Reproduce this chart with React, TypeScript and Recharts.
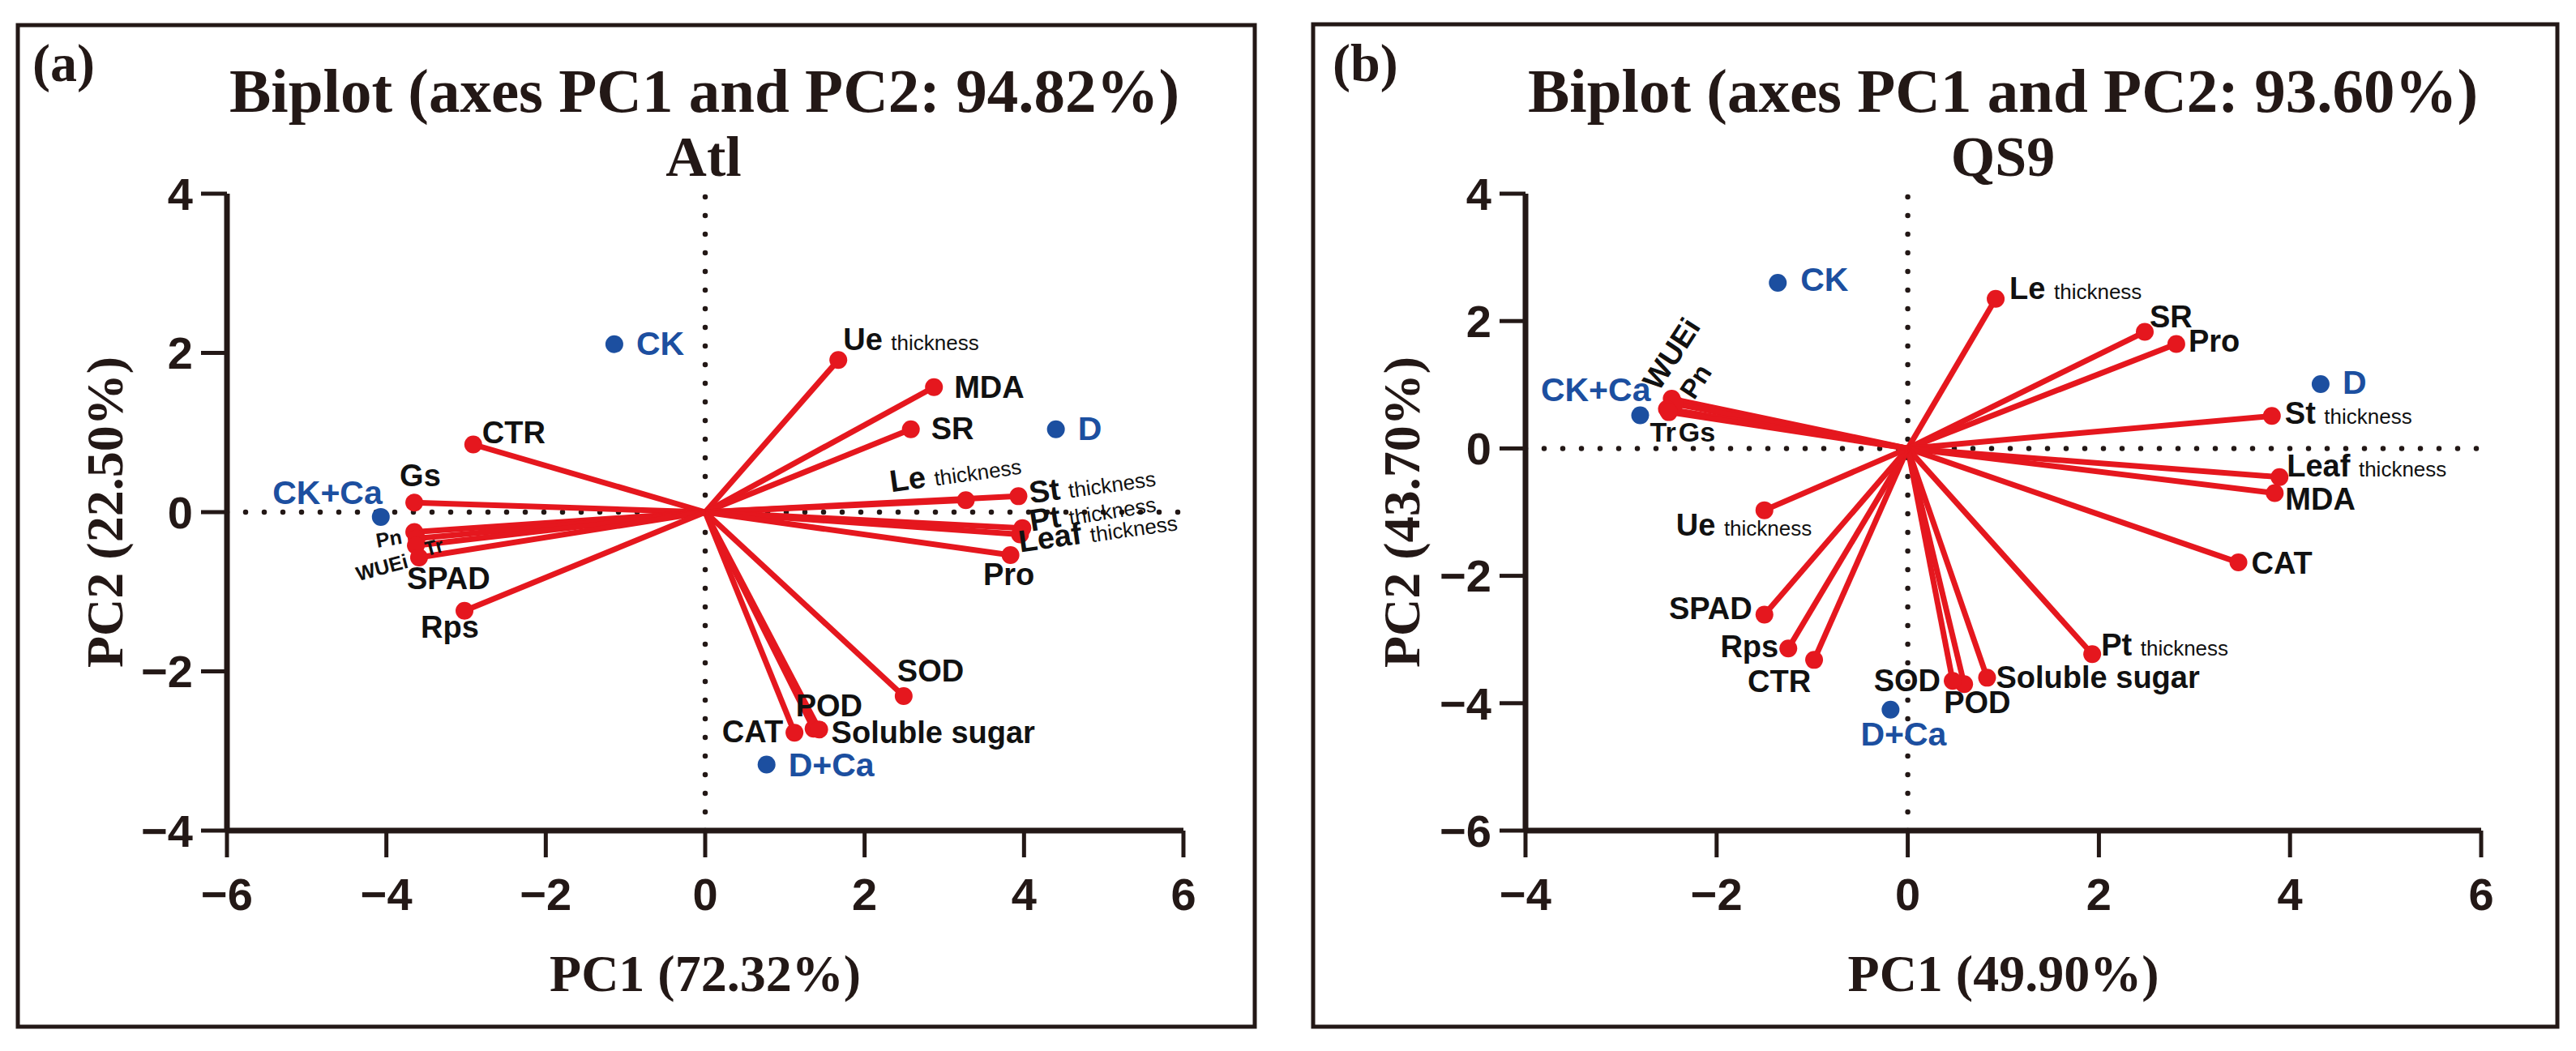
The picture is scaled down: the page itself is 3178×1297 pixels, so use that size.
import React from 'react';
import { ScatterChart, Scatter, XAxis, YAxis, ReferenceLine } from 'recharts';

const RED = '#e5171e';
const BLUE = '#1c4fa0';
const INK = '#231816';
const SANS = 'Liberation Sans, Arial, sans-serif';
const SERIF = 'Liberation Serif, Times New Roman, serif';

// ---------- Panel (a): Atl ----------
const varsA = ['Ue thickness', 'MDA', 'SR', 'Le thickness', 'St thickness', 'Pt thickness', 'Leaf thickness', 'Pro', 'SOD', 'POD', 'Soluble sugar', 'CAT', 'CTR', 'Gs', 'Pn', 'Tr', 'WUEi', 'SPAD', 'Rps'];
const pc1A = [1.67, 2.87, 2.58, 3.27, 3.93, 3.98, 3.95, 3.83, 2.49, 1.36, 1.43, 1.12, -2.91, -3.65, -3.65, -3.62, -3.63, -3.59, -3.02];
const pc2A = [1.91, 1.57, 1.04, 0.15, 0.2, -0.2, -0.28, -0.54, -2.31, -2.72, -2.73, -2.77, 0.85, 0.12, -0.25, -0.33, -0.42, -0.57, -1.24];
const samplesA = ['CK', 'D', 'CK+Ca', 'D+Ca'];
const score1A = [-1.14, 4.4, -4.07, 0.77];
const score2A = [2.11, 1.04, -0.06, -3.17];
const xTicksA = [-6, -4, -2, 0, 2, 4, 6];
const yTicksA = [-4, -2, 0, 2, 4];

// ---------- Panel (b): QS9 ----------
const varsB = ['Le thickness', 'SR', 'Pro', 'St thickness', 'Leaf thickness', 'MDA', 'CAT', 'Pt thickness', 'Soluble sugar', 'POD', 'SOD', 'CTR', 'Rps', 'SPAD', 'Ue thickness', 'WUEi', 'Pn', 'Tr', 'Gs'];
const pc1B = [0.92, 2.48, 2.81, 3.81, 3.89, 3.84, 3.46, 1.93, 0.83, 0.59, 0.47, -0.98, -1.25, -1.5, -1.5, -2.47, -2.44, -2.52, -2.5];
const pc2B = [2.35, 1.83, 1.64, 0.51, -0.45, -0.7, -1.79, -3.23, -3.6, -3.7, -3.65, -3.32, -3.14, -2.61, -0.97, 0.78, 0.7, 0.62, 0.57];
const samplesB = ['CK', 'D', 'CK+Ca', 'D+Ca'];
const score1B = [-1.36, 4.32, -2.8, -0.18];
const score2B = [2.6, 1.01, 0.52, -4.1];
const xTicksB = [-4, -2, 0, 2, 4, 6];
const yTicksB = [-6, -4, -2, 0, 2, 4];

// label placement (pixel offsets from the point): [dx, dy, anchor, rotation, fontSize]
type LP = [number, number, string, number, number];
const labelPosA: Record<string, LP> = {
  'Ue thickness': [6, -12, 'start', 0, 38],
  MDA: [25, 13, 'start', 0, 38],
  SR: [25, 12, 'start', 0, 38],
  'Le thickness': [-92, -10, 'start', -8, 38],
  'St thickness': [15, 9, 'start', -8, 38],
  'Pt thickness': [11, 4, 'start', -9, 38],
  'Leaf thickness': [0, 22, 'start', -8, 38],
  Pro: [-2, 37, 'middle', 0, 38],
  SOD: [-8, -18, 'start', 0, 38],
  POD: [-22, -15, 'start', 0, 38],
  'Soluble sugar': [15, 17, 'start', 0, 38],
  CAT: [-14, 12, 'end', 0, 38],
  CTR: [11, -1, 'start', 0, 38],
  Gs: [-18, -20, 'start', 0, 38],
  Pn: [-14, 14, 'end', -10, 25],
  Tr: [12, 22, 'start', -15, 25],
  WUEi: [-8, 27, 'end', -15, 25],
  SPAD: [-15, 39, 'start', 0, 38],
  Rps: [-54, 33, 'start', 0, 38],
};
const samplePosA: Record<string, LP> = {
  CK: [27, 13, 'start', 0, 41],
  D: [27, 13, 'start', 0, 41],
  'CK+Ca': [2, -16, 'end', 0, 41],
  'D+Ca': [27, 15, 'start', 0, 41],
};
const labelPosB: Record<string, LP> = {
  'Le thickness': [17, 0, 'start', 0, 38],
  SR: [6, -6, 'start', 0, 38],
  Pro: [15, 10, 'start', 0, 38],
  'St thickness': [16, 10, 'start', 0, 38],
  'Leaf thickness': [9, -1, 'start', 0, 38],
  MDA: [13, 21, 'start', 0, 38],
  CAT: [16, 14, 'start', 0, 38],
  'Pt thickness': [11, 2, 'start', 0, 38],
  'Soluble sugar': [11, 13, 'start', 0, 38],
  POD: [-25, 36, 'start', 0, 38],
  SOD: [-15, 13, 'end', 0, 38],
  CTR: [-82, 40, 'start', 0, 38],
  Rps: [-12, 11, 'end', 0, 38],
  SPAD: [-15, 5, 'end', 0, 38],
  'Ue thickness': [-109, 31, 'start', 0, 38],
  WUEi: [-16, -8, 'start', -57, 37],
  Pn: [24, -4, 'start', -57, 33],
  Tr: [-21, 40, 'start', 0, 34],
  Gs: [12, 36, 'start', 0, 34],
};
const samplePosB: Record<string, LP> = {
  CK: [28, 10, 'start', 0, 41],
  D: [27, 12, 'start', 0, 41],
  'CK+Ca': [13, -18, 'end', 0, 41],
  'D+Ca': [16, 44, 'middle', 0, 41],
};

const minus = (v: number) => String(v).replace('-', '\u2212');

const makeShape = (pos: Record<string, LP>, color: string, textColor: string) => (props: any) => {
  const { cx, cy, payload } = props;
  if (cx == null || cy == null) return <g />;
  const name: string = payload.name;
  const [dx, dy, anchor, rot, size] = pos[name] || [12, 12, 'start', 0, 38];
  const lx = cx + dx;
  const ly = cy + dy;
  const isThick = name.endsWith(' thickness');
  const main = isThick ? name.slice(0, -10) + ' ' : name;
  return (
    <g>
      <circle cx={cx} cy={cy} r={11} fill={color} />
      <text
        x={lx}
        y={ly}
        textAnchor={anchor}
        transform={rot ? `rotate(${rot} ${lx} ${ly})` : undefined}
        fontFamily={SANS}
        fontWeight="bold"
        fontSize={size}
        fill={textColor}
      >
        {main}
        {isThick ? (
          <tspan fontSize={26} fontWeight="normal">
            thickness
          </tspan>
        ) : null}
      </text>
    </g>
  );
};

type PanelProps = {
  left: number;
  width: number;
  yAxisWidth: number;
  marginRight: number;
  vars: string[];
  pc1: number[];
  pc2: number[];
  samples: string[];
  s1: number[];
  s2: number[];
  xDomain: [number, number];
  yDomain: [number, number];
  xTicks: number[];
  yTicks: number[];
  xLabel: string;
  yLabel: string;
  labelPos: Record<string, LP>;
  samplePos: Record<string, LP>;
};

function Panel(p: PanelProps) {
  const loadings = p.vars.map((name, i) => ({ name, x: p.pc1[i], y: p.pc2[i] }));
  const scores = p.samples.map((name, i) => ({ name, x: p.s1[i], y: p.s2[i] }));
  const tickFont = { fontSize: 56, fontFamily: SANS, fontWeight: 'bold', fill: INK };
  return (
    <div style={{ position: 'absolute', left: p.left, top: 0 }}>
      <ScatterChart
        width={p.width}
        height={1297}
        margin={{ top: 239, right: p.marginRight, bottom: 74, left: 0 }}
      >
        <XAxis
          dataKey="x"
          type="number"
          domain={p.xDomain}
          ticks={p.xTicks}
          interval={0}
          height={198}
          tickSize={33}
          tickMargin={25}
          tickFormatter={minus}
          tick={tickFont}
          stroke={INK}
          axisLine={{ stroke: INK, strokeWidth: 7 }}
          tickLine={{ stroke: INK, strokeWidth: 5 }}
          label={{
            value: p.xLabel,
            position: 'insideBottom',
            offset: 0,
            fontSize: 64,
            fontFamily: SERIF,
            fontWeight: 'bold',
            fill: INK,
          }}
        />
        <YAxis
          dataKey="y"
          type="number"
          domain={p.yDomain}
          ticks={p.yTicks}
          interval={0}
          width={p.yAxisWidth}
          tickSize={32}
          tickMargin={10}
          tickFormatter={minus}
          tick={tickFont}
          stroke={INK}
          axisLine={{ stroke: INK, strokeWidth: 7 }}
          tickLine={{ stroke: INK, strokeWidth: 5 }}
          label={{
            value: p.yLabel,
            angle: -90,
            position: 'insideLeft',
            offset: 128,
            fontSize: 64,
            fontFamily: SERIF,
            fontWeight: 'bold',
            fill: INK,
            style: { textAnchor: 'middle' },
          }}
        />
        <XAxis
          xAxisId="top"
          orientation="top"
          dataKey="x"
          type="number"
          domain={p.xDomain}
          height={0}
          tick={false}
          tickLine={false}
          axisLine={{ stroke: INK, strokeWidth: 5 }}
        />
        <YAxis
          yAxisId="right"
          orientation="right"
          dataKey="y"
          type="number"
          domain={p.yDomain}
          width={0}
          tick={false}
          tickLine={false}
          axisLine={{ stroke: INK, strokeWidth: 5 }}
        />
        <ReferenceLine x={0} stroke={INK} strokeWidth={6.5} strokeDasharray="0 23" strokeLinecap="round" />
        <ReferenceLine y={0} stroke={INK} strokeWidth={6.5} strokeDasharray="0 23" strokeLinecap="round" />
        {loadings.map((d) => (
          <ReferenceLine
            key={'v' + d.name}
            segment={[
              { x: 0, y: 0 },
              { x: d.x, y: d.y },
            ]}
            stroke={RED}
            strokeWidth={7}
          />
        ))}
        <Scatter
          name="loadings"
          data={loadings}
          fill={RED}
          isAnimationActive={false}
          shape={makeShape(p.labelPos, RED, '#111111')}
        />
        <Scatter
          name="scores"
          data={scores}
          fill={BLUE}
          isAnimationActive={false}
          shape={makeShape(p.samplePos, BLUE, BLUE)}
        />
      </ScatterChart>
    </div>
  );
}

export default function App() {
  return (
    <div style={{ position: 'absolute', left: 0, top: 0, width: 3178, height: 1297, background: '#ffffff', overflow: 'hidden' }}>
      <svg width={3178} height={1297} style={{ position: 'absolute', left: 0, top: 0 }}>
        <rect x={22} y={31} width={1526} height={1236} fill="none" stroke={INK} strokeWidth={5} />
        <rect x={1620} y={30} width={1535} height={1237} fill="none" stroke={INK} strokeWidth={5} />
        <g fontFamily={SERIF} fontWeight="bold" fill={INK}>
          <text x={40} y={100} fontSize={66}>(a)</text>
          <text x={869} y={138} fontSize={77} textAnchor="middle">Biplot (axes PC1 and PC2: 94.82%)</text>
          <text x={868} y={217} fontSize={70} textAnchor="middle">Atl</text>
          <text x={1644} y={100} fontSize={66}>(b)</text>
          <text x={2471} y={138} fontSize={77} textAnchor="middle">Biplot (axes PC1 and PC2: 93.60%)</text>
          <text x={2471} y={217} fontSize={70} textAnchor="middle">QS9</text>
        </g>
      </svg>
      <Panel
        left={0}
        width={1600}
        yAxisWidth={280}
        marginRight={140}
        vars={varsA}
        pc1={pc1A}
        pc2={pc2A}
        samples={samplesA}
        s1={score1A}
        s2={score2A}
        xDomain={[-6, 6]}
        yDomain={[-4, 4]}
        xTicks={xTicksA}
        yTicks={yTicksA}
        xLabel="PC1 (72.32%)"
        yLabel="PC2 (22.50%)"
        labelPos={labelPosA}
        samplePos={samplePosA}
      />
      <Panel
        left={1600}
        width={1578}
        yAxisWidth={282}
        marginRight={117}
        vars={varsB}
        pc1={pc1B}
        pc2={pc2B}
        samples={samplesB}
        s1={score1B}
        s2={score2B}
        xDomain={[-4, 6]}
        yDomain={[-6, 4]}
        xTicks={xTicksB}
        yTicks={yTicksB}
        xLabel="PC1 (49.90%)"
        yLabel="PC2 (43.70%)"
        labelPos={labelPosB}
        samplePos={samplePosB}
      />
    </div>
  );
}
